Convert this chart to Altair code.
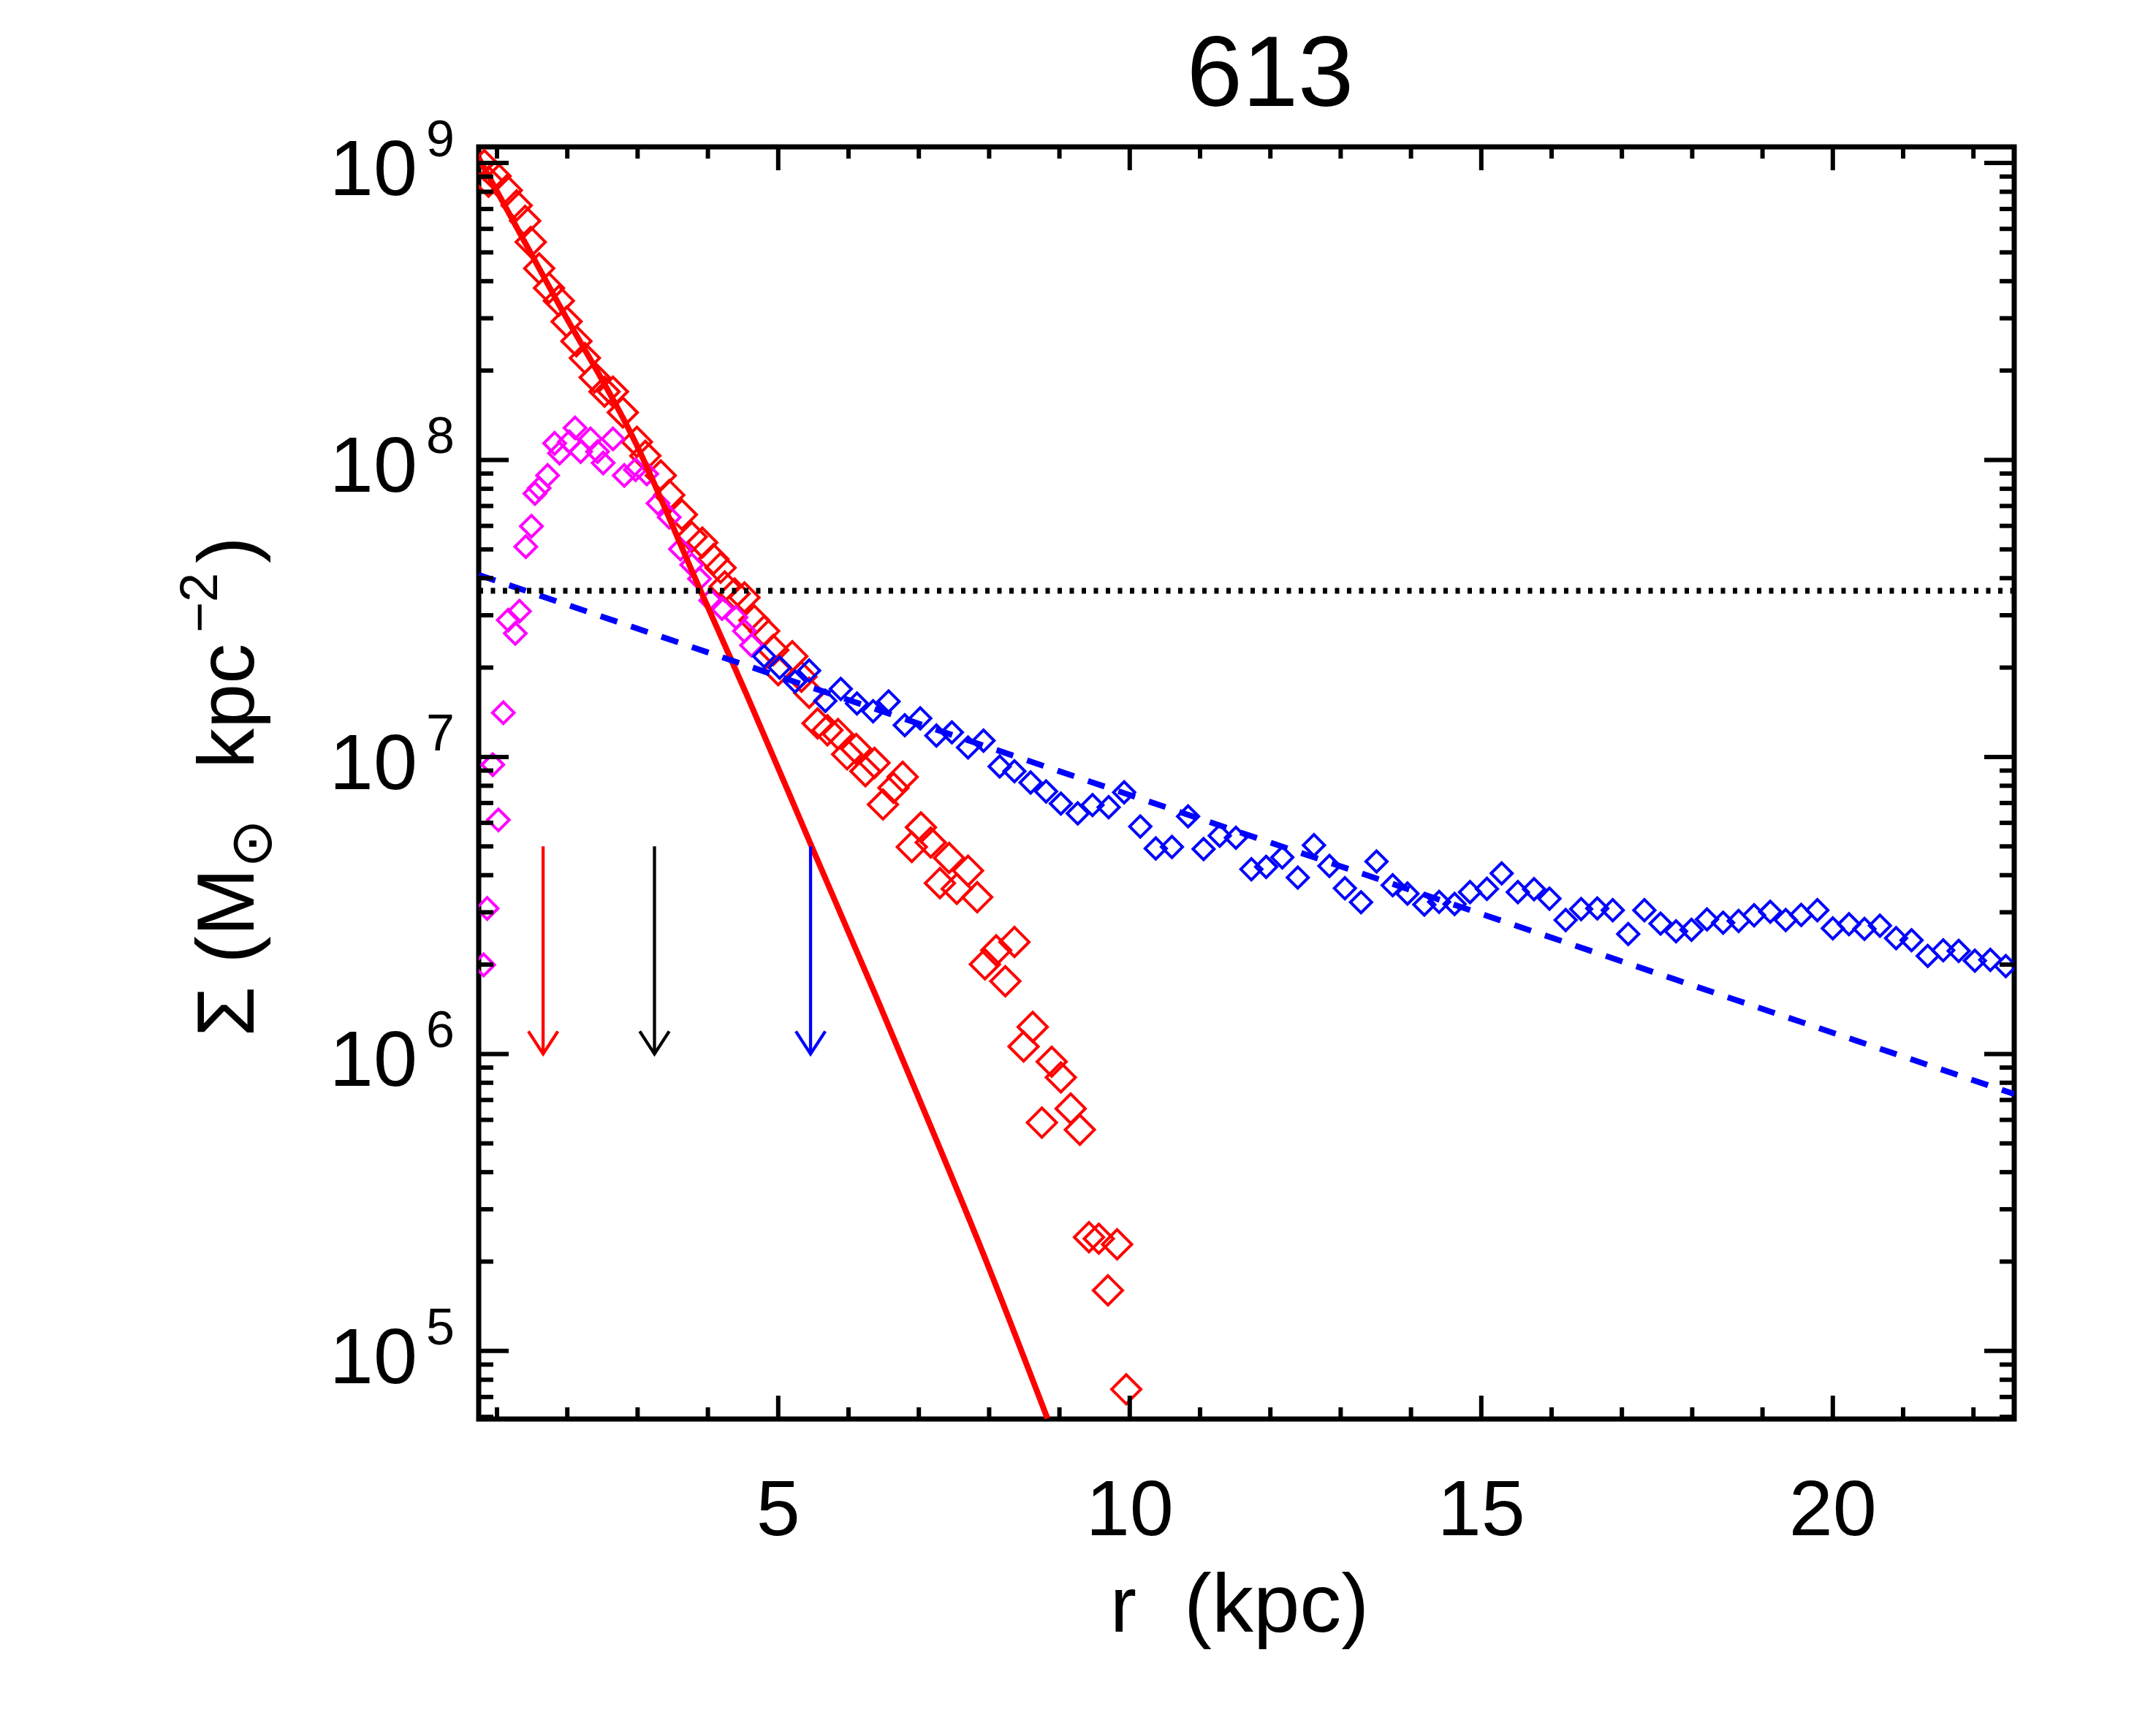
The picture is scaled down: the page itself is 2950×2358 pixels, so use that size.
import altair as alt
import pandas as pd

# ---------------- values (log10 of Sigma) ----------------
red_r = [0.82, 0.88, 0.98, 1.14, 1.28, 1.40, 1.48, 1.60, 1.74, 1.88,
         1.99, 2.13, 2.25, 2.39, 2.53, 2.65, 2.79, 2.99, 3.11, 3.33,
         3.45, 3.63, 3.77, 3.92, 4.08, 4.18, 4.24, 4.38, 4.52, 4.66,
         4.80, 4.93, 5.00, 5.20, 5.33, 5.44, 5.56, 5.70, 5.85, 5.98,
         6.11, 6.24, 6.37, 6.49, 6.64, 6.77, 6.90, 7.03, 7.17, 7.30,
         7.43, 7.54, 7.70, 7.83, 7.94, 8.10, 8.23, 8.36, 8.49, 8.62,
         8.75, 8.89, 9.02, 9.16, 9.29, 9.42, 9.56, 9.69, 9.82, 9.95]
red_logS = [8.993, 8.937, 8.956, 8.908, 8.857, 8.805, 8.734, 8.645, 8.579, 8.536,
            8.466, 8.40, 8.343, 8.278, 8.23, 8.23, 8.16, 8.061, 8.014, 7.948,
            7.882, 7.816, 7.741, 7.722, 7.666, 7.637, 7.574, 7.55, 7.537, 7.46,
            7.424, 7.36, 7.292, 7.339, 7.27, 7.216, 7.113, 7.09, 7.077, 7.009,
            7.027, 6.952, 6.98, 6.84, 6.896, 6.933, 6.697, 6.763, 6.712, 6.575,
            6.66, 6.556, 6.617, 6.528, 6.302, 6.349, 6.245, 6.377, 6.025, 6.091,
            5.769, 5.974, 5.921, 5.816, 5.745, 5.383, 5.378, 5.204, 5.359, 4.871]

mag_r = [0.81, 0.86, 0.94, 1.02, 1.09, 1.16, 1.26, 1.32, 1.41, 1.49,
         1.54, 1.60, 1.72, 1.82, 1.89, 2.03, 2.11, 2.19, 2.33, 2.43,
         2.51, 2.65, 2.81, 2.97, 3.13, 3.29, 3.45, 3.61, 3.77, 3.88,
         4.04, 4.20, 4.40, 4.52, 4.62]
mag_logS = [6.30, 6.49, 6.974, 6.788, 7.149, 7.461, 7.416, 7.491, 7.708, 7.777,
            7.887, 7.905, 7.948, 8.056, 8.023, 8.061, 8.108, 8.028, 8.071, 8.028,
            7.99, 8.071, 7.948, 7.967, 7.953, 7.854, 7.807, 7.70, 7.647, 7.60,
            7.527, 7.50, 7.47, 7.424, 7.376]

blue_r = [4.80, 5.02, 5.24, 5.44, 5.67, 5.89, 6.12, 6.35, 6.57, 6.80,
          7.02, 7.25, 7.47, 7.70, 7.92, 8.15, 8.36, 8.59, 8.81, 9.02,
          9.26, 9.47, 9.70, 9.92, 10.15, 10.37, 10.60, 10.83, 11.05, 11.28,
          11.51, 11.73, 11.94, 12.17, 12.39, 12.62, 12.84, 13.06, 13.29, 13.51,
          13.74, 13.95, 14.19, 14.40, 14.62, 14.84, 15.08, 15.29, 15.52, 15.75,
          15.97, 16.20, 16.42, 16.65, 16.87, 17.09, 17.32, 17.55, 17.77, 17.99,
          18.21, 18.44, 18.66, 18.88, 19.11, 19.33, 19.55, 19.78, 20.00, 20.23,
          20.45, 20.67, 20.90, 21.12, 21.35, 21.57, 21.79, 22.02, 22.24, 22.46]
blue_logS = [7.339, 7.301, 7.254, 7.291, 7.189, 7.229, 7.18, 7.154, 7.187, 7.107,
             7.13, 7.072, 7.083, 7.032, 7.055, 6.968, 6.952, 6.914, 6.884, 6.843,
             6.81, 6.838, 6.831, 6.881, 6.766, 6.692, 6.697, 6.80, 6.69, 6.735,
             6.728, 6.622, 6.63, 6.662, 6.594, 6.703, 6.633, 6.558, 6.511, 6.648,
             6.568, 6.54, 6.503, 6.512, 6.505, 6.545, 6.556, 6.608, 6.545, 6.555,
             6.523, 6.451, 6.488, 6.49, 6.484, 6.404, 6.484, 6.439, 6.413, 6.418,
             6.453, 6.442, 6.448, 6.467, 6.479, 6.451, 6.468, 6.484, 6.423, 6.437,
             6.421, 6.432, 6.39, 6.383, 6.33, 6.349, 6.347, 6.314, 6.317, 6.296]

# fitted inner profile (solid red) and exponential disk (dashed blue)
fit_r = [0.74, 1.856, 2.969, 3.857, 4.560, 5.475, 6.39, 6.923, 7.963, 8.829]
fit_logS = [9.017, 8.534, 8.059, 7.581, 7.205, 6.699, 6.195, 5.895, 5.300, 4.773]
disk_r = [0.74, 22.58]
disk_logS = [7.613, 5.865]

dotted_S = [3.63e7]

arrow_r = [1.656, 3.24, 5.46]
arrow_col = ["#ff0000", "#000000", "#0000ff"]
arrow_top = 5.0e6
arrow_tip = 1.0e6

# axis ticks and labels
x_major = [5, 10, 15, 20]
x_minor = [1, 2, 3, 4, 6, 7, 8, 9, 11, 12, 13, 14, 16, 17, 18, 19, 21, 22]
y_exp = [5, 6, 7, 8, 9]
y_minor_mult = [2, 3, 4, 5, 6, 7, 8, 9]

X_DOMAIN = [0.74, 22.58]
Y_DOMAIN = [5.9e4, 1.133e9]

W, H = 2101, 1741
FONT = "Liberation Sans"

# ---------------- build tables ----------------
def table(rs, logs):
    return pd.DataFrame({"r": rs, "S": [10 ** v for v in logs]})

red_df = table(red_r, red_logS)
mag_df = table(mag_r, mag_logS)
blue_df = table(blue_r, blue_logS)
fit_df = table(fit_r, fit_logS)
disk_df = table(disk_r, disk_logS)

y_major = [10.0 ** e for e in y_exp]
y_minor = [m * 10.0 ** e for e in range(4, 9) for m in y_minor_mult
           if Y_DOMAIN[0] < m * 10.0 ** e < Y_DOMAIN[1]]

xs = alt.Scale(domain=X_DOMAIN, nice=False, zero=False)
ys = alt.Scale(type="log", domain=Y_DOMAIN, nice=False)

def X(f="r"):
    return alt.X(f + ":Q", scale=xs, axis=None)

def Y(f="S"):
    return alt.Y(f + ":Q", scale=ys, axis=None)

def diamonds(df, color, size):
    return alt.Chart(df).mark_point(
        shape="diamond", filled=False, size=size, strokeWidth=4,
        color=color, opacity=1, clip=True
    ).encode(x=X(), y=Y())

red_pts = diamonds(red_df, "#ff0000", 1600)
mag_pts = diamonds(mag_df, "#ff00ff", 880)
blue_pts = diamonds(blue_df, "#0000ff", 840)

fit_line = alt.Chart(fit_df).mark_line(
    color="#ff0000", strokeWidth=8, clip=True, interpolate="monotone").encode(x=X(), y=Y())
disk_line = alt.Chart(disk_df).mark_line(
    color="#0000ff", strokeWidth=8, strokeDash=[24, 20], clip=True).encode(x=X(), y=Y())

dotted = alt.Chart(pd.DataFrame({"S": dotted_S})).mark_rule(
    color="black", strokeWidth=8, strokeDash=[6, 10.5]).encode(
    y=Y(), x=alt.value(0), x2=alt.value(W))

arr_df = pd.DataFrame({"r": arrow_r, "c": arrow_col,
                       "top": [arrow_top] * 3, "tip": [arrow_tip] * 3})
arrow_shaft = alt.Chart(arr_df).mark_rule(strokeWidth=4.3).encode(
    x=X(), y=Y("top"), y2=alt.Y2("tip:Q"), color=alt.Color("c:N", scale=None))
arrow_head = alt.Chart(arr_df).mark_point(
    shape="M -0.65 -1 L 0 0 L 0.65 -1", filled=False, size=3844, strokeWidth=4.3,
    opacity=1, strokeJoin="miter").encode(
    x=X(), y=Y("tip"), color=alt.Color("c:N", scale=None))

# ticks (inward, on all four sides)
TW = 6
yM = pd.DataFrame({"S": y_major})
ym = pd.DataFrame({"S": y_minor})
xM = pd.DataFrame({"r": x_major})
xm = pd.DataFrame({"r": x_minor})

def hrule(df, x0, x1):
    return alt.Chart(df).mark_rule(color="black", strokeWidth=TW).encode(
        y=Y(), x=alt.value(x0), x2=alt.value(x1))

def vrule(df, y0, y1):
    return alt.Chart(df).mark_rule(color="black", strokeWidth=TW).encode(
        x=X(), y=alt.value(y0), y2=alt.value(y1))

ticks = [
    hrule(yM, 0, 41), hrule(yM, W - 41, W),
    hrule(ym, 0, 20), hrule(ym, W - 20, W),
    vrule(xM, H, H - 32), vrule(xM, 0, 32),
    vrule(xm, H, H - 16), vrule(xm, 0, 16),
]

# tick labels
xlab_df = pd.DataFrame({"r": x_major, "t": [str(v) for v in x_major]})
xlabels = alt.Chart(xlab_df).mark_text(
    font=FONT, fontSize=108, align="center", baseline="alphabetic", color="black").encode(
    x=X(), y=alt.value(H + 159), text="t:N")

ylab_df = pd.DataFrame({"S": y_major, "e": [str(e) for e in y_exp], "b": ["10"] * len(y_exp)})
ylab_base = alt.Chart(ylab_df).mark_text(
    font=FONT, fontSize=108, align="right", baseline="alphabetic", dy=44, color="black").encode(
    y=Y(), x=alt.value(-84), text="b:N")
ylab_exp = alt.Chart(ylab_df).mark_text(
    font=FONT, fontSize=70, align="left", baseline="alphabetic", dy=-9, color="black").encode(
    y=Y(), x=alt.value(-72), text="e:N")

# titles as text
def label(txt, x, y, size, angle=0, align="center"):
    return alt.Chart(pd.DataFrame({"t": [txt]})).mark_text(
        font=FONT, fontSize=size, align=align, baseline="alphabetic",
        angle=angle, color="black").encode(
        x=alt.value(x), y=alt.value(y), text="t:N")

title = label("613", 1083, -56, 137)
xtitle = [
    label("r", 864, H + 291, 108, align="left"),
    label("(kpc)", 965, H + 291, 114, align="left"),
]
ytitle = [
    label("Σ (M", -308, 1218, 112, angle=270, align="left"),
    label("⊙", -284, 987, 80, angle=270, align="left"),
    label("kpc", -308, 851, 110, angle=270, align="left"),
    label("−2", -358, 665, 72, angle=270, align="left"),
    label(")", -308, 570, 110, angle=270, align="left"),
]

chart = alt.layer(
    red_pts, mag_pts, fit_line, blue_pts, disk_line, dotted,
    arrow_shaft, arrow_head, *ticks, xlabels, ylab_base, ylab_exp,
    title, *xtitle, *ytitle
).properties(
    width=W, height=H,
    autosize=alt.AutoSizeParams(type="none"),
    padding={"left": 647, "top": 193, "right": 180, "bottom": 390},
    background="white",
).configure_view(stroke="black", strokeWidth=7)

chart.save("out.html", embed_options={"renderer": "svg", "actions": False})
